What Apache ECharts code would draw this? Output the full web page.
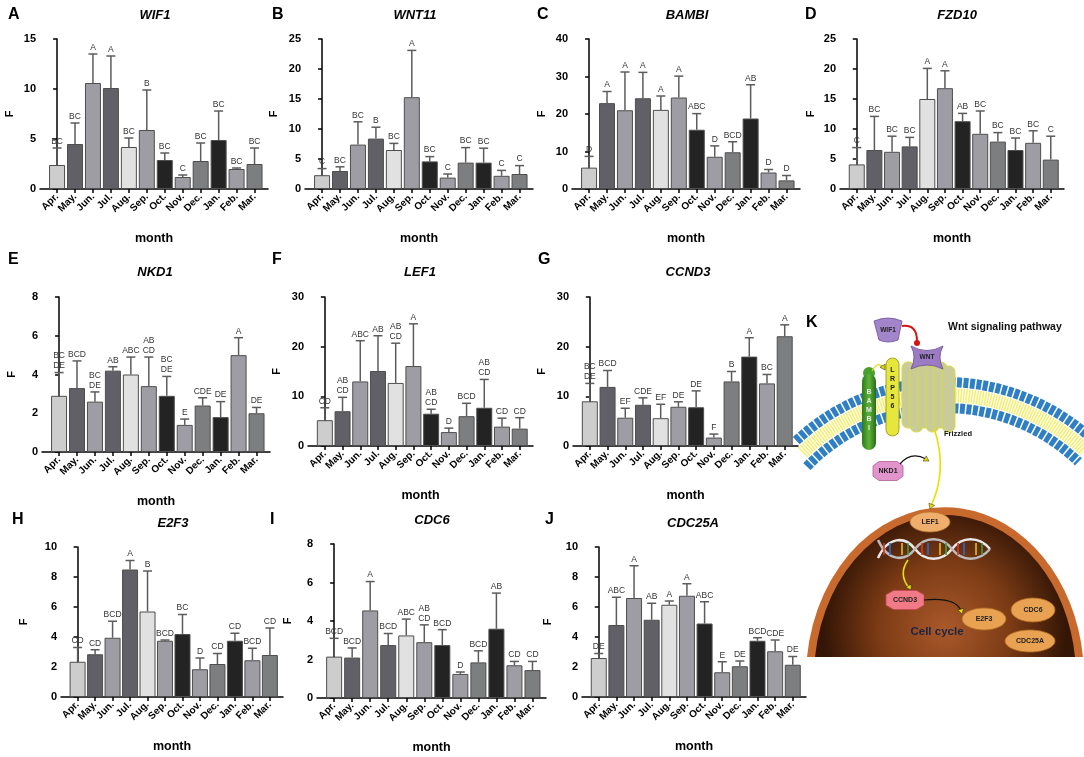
<!DOCTYPE html>
<html>
<head>
<meta charset="utf-8">
<script src="https://cdn.jsdelivr.net/npm/echarts@6.0.0/dist/echarts.min.js"></script>
<style>
  html, body { margin: 0; padding: 0; background: #fff; }
  #main { width: 1084px; height: 757px; }
</style>
</head>
<body>
<div id="main"></div>
<script>
var months = ['Apr.', 'May.', 'Jun.', 'Jul.', 'Aug.', 'Sep.', 'Oct.', 'Nov.', 'Dec.', 'Jan.', 'Feb.', 'Mar.'];
var monthIdx = [0, 1, 2, 3, 4, 5, 6, 7, 8, 9, 10, 11];
var monthColors = ['#cdcdcd', '#606066', '#9d9da3', '#606066', '#e1e1e1', '#9d9da3',
                   '#232323', '#9d9da3', '#7d7e80', '#232323', '#9d9da3', '#7d7e80'];

// A WIF1
var wif1Mean = [2.4, 4.5, 10.6, 10.1, 4.2, 5.9, 2.9, 1.2, 2.8, 4.9, 2.0, 2.5];
var wif1Sd   = [1.7, 2.1, 2.9, 3.2, 0.9, 4.0, 0.7, 0.2, 1.8, 2.9, 0.1, 1.6];
var wif1Sig  = ['BC', 'BC', 'A', 'A', 'BC', 'B', 'BC', 'C', 'BC', 'BC', 'BC', 'BC'];
var wif1Ticks = [0, 5, 10, 15];
// B WNT11
var wnt11Mean = [2.3, 3.0, 7.4, 8.4, 6.5, 15.3, 4.6, 1.9, 4.4, 4.4, 2.2, 2.5];
var wnt11Sd   = [1.1, 0.7, 3.8, 1.9, 1.1, 7.8, 0.8, 0.6, 2.5, 2.4, 0.9, 1.4];
var wnt11Sig  = ['C', 'BC', 'BC', 'B', 'BC', 'A', 'BC', 'C', 'BC', 'BC', 'C', 'C'];
var wnt11Ticks = [0, 5, 10, 15, 20, 25];
// C BAMBI
var bambiMean = [5.7, 22.9, 21.0, 24.2, 21.1, 24.4, 15.8, 8.6, 9.8, 18.8, 4.4, 2.3];
var bambiSd   = [3.0, 3.1, 10.2, 6.9, 3.7, 5.7, 4.3, 2.9, 2.8, 9.0, 0.8, 1.3];
var bambiSig  = ['D', 'A', 'A', 'A', 'A', 'A', 'ABC', 'D', 'BCD', 'AB', 'D', 'D'];
var bambiTicks = [0, 10, 20, 30, 40];
// D FZD10
var fzd10Mean = [4.1, 6.5, 6.2, 7.1, 15.0, 16.8, 11.3, 9.2, 7.9, 6.5, 7.7, 4.9];
var fzd10Sd   = [2.8, 5.6, 2.6, 1.5, 5.1, 2.9, 1.3, 3.8, 1.5, 2.0, 2.0, 3.9];
var fzd10Sig  = ['C', 'BC', 'BC', 'BC', 'A', 'A', 'AB', 'BC', 'BC', 'BC', 'BC', 'C'];
var fzd10Ticks = [0, 5, 10, 15, 20, 25];
// E NKD1
var nkd1Mean = [2.9, 3.3, 2.6, 4.2, 4.0, 3.4, 2.9, 1.4, 2.4, 1.8, 5.0, 2.0];
var nkd1Sd   = [1.2, 1.4, 0.5, 0.2, 0.9, 1.5, 1.0, 0.3, 0.4, 0.8, 0.9, 0.3];
var nkd1Sig  = ['BC\nDE', 'BCD', 'BC\nDE', 'AB', 'ABC', 'AB\nCD', 'BC\nDE', 'E', 'CDE', 'DE', 'A', 'DE'];
var nkd1Ticks = [0, 2, 4, 6, 8];
// F LEF1
var lef1Mean = [5.2, 7.0, 13.0, 15.1, 12.7, 16.1, 6.5, 2.8, 6.0, 7.7, 3.9, 3.5];
var lef1Sd   = [2.5, 2.8, 8.2, 7.1, 8.0, 8.5, 0.9, 0.8, 2.6, 5.7, 1.7, 2.2];
var lef1Sig  = ['CD', 'AB\nCD', 'ABC', 'AB', 'AB\nCD', 'A', 'AB\nCD', 'D', 'BCD', 'AB\nCD', 'CD', 'CD'];
var lef1Ticks = [0, 10, 20, 30];
// G CCND3
var ccnd3Mean = [9.0, 11.9, 5.7, 8.3, 5.6, 7.9, 7.8, 1.7, 13.0, 18.0, 12.6, 22.1];
var ccnd3Sd   = [3.6, 3.3, 1.9, 1.4, 2.8, 1.0, 3.3, 0.7, 2.0, 3.8, 1.8, 2.3];
var ccnd3Sig  = ['BC\nDE', 'BCD', 'EF', 'CDE', 'EF', 'DE', 'DE', 'F', 'B', 'A', 'BC', 'A'];
var ccnd3Ticks = [0, 10, 20, 30];
// H E2F3
var e2f3Mean = [2.35, 2.85, 3.95, 8.5, 5.7, 3.75, 4.2, 1.85, 2.2, 3.75, 2.45, 2.8];
var e2f3Sd   = [0.95, 0.3, 1.1, 0.6, 2.7, 0.05, 1.3, 0.75, 0.7, 0.5, 0.8, 1.8];
var e2f3Sig  = ['CD', 'CD', 'BCD', 'A', 'B', 'BCD', 'BC', 'D', 'CD', 'CD', 'BCD', 'CD'];
var e2f3Ticks = [0, 2, 4, 6, 8, 10];
// I CDC6
var cdc6Mean = [2.15, 2.1, 4.55, 2.75, 3.25, 2.9, 2.75, 1.25, 1.85, 3.6, 1.7, 1.45];
var cdc6Sd   = [0.95, 0.5, 1.5, 0.6, 0.85, 0.9, 0.8, 0.1, 0.6, 1.85, 0.2, 0.45];
var cdc6Sig  = ['BCD', 'BCD', 'A', 'BCD', 'ABC', 'AB\nCD', 'BCD', 'D', 'BCD', 'AB', 'CD', 'CD'];
var cdc6Ticks = [0, 2, 4, 6, 8];
// J CDC25A
var cdc25aMean = [2.6, 4.8, 6.6, 5.15, 6.15, 6.75, 4.9, 1.65, 2.05, 3.75, 3.05, 2.15];
var cdc25aSd   = [0.3, 1.85, 2.15, 1.1, 0.25, 0.8, 1.45, 0.7, 0.35, 0.2, 0.75, 0.55];
var cdc25aSig  = ['DE', 'ABC', 'A', 'AB', 'A', 'A', 'ABC', 'E', 'DE', 'BCD', 'CDE', 'DE'];
var cdc25aTicks = [0, 2, 4, 6, 8, 10];

var FONT = '"Liberation Sans", Arial, Helvetica, sans-serif';

var panels = [
  { letter: 'A', gene: 'WIF1',   mean: wif1Mean,   sd: wif1Sd,   sig: wif1Sig,   ticks: wif1Ticks,   left: 40,  top: 39,  width: 228, height: 150, lx: 8,   ly: 15,  tx: 155, ty: 15,  fGap: 25 },
  { letter: 'B', gene: 'WNT11',  mean: wnt11Mean,  sd: wnt11Sd,  sig: wnt11Sig,  ticks: wnt11Ticks,  left: 305, top: 39,  width: 228, height: 150, lx: 272, ly: 15,  tx: 415, ty: 15,  fGap: 26 },
  { letter: 'C', gene: 'BAMBI',  mean: bambiMean,  sd: bambiSd,  sig: bambiSig,  ticks: bambiTicks,  left: 572, top: 39,  width: 228, height: 150, lx: 537, ly: 15,  tx: 687, ty: 15,  fGap: 25 },
  { letter: 'D', gene: 'FZD10',  mean: fzd10Mean,  sd: fzd10Sd,  sig: fzd10Sig,  ticks: fzd10Ticks,  left: 840, top: 39,  width: 224, height: 150, lx: 805, ly: 15,  tx: 957, ty: 15,  fGap: 24 },
  { letter: 'E', gene: 'NKD1',   mean: nkd1Mean,   sd: nkd1Sd,   sig: nkd1Sig,   ticks: nkd1Ticks,   left: 42,  top: 297, width: 228, height: 155, lx: 8,   ly: 260, tx: 155, ty: 272, fGap: 25 },
  { letter: 'F', gene: 'LEF1',   mean: lef1Mean,   sd: lef1Sd,   sig: lef1Sig,   ticks: lef1Ticks,   left: 308, top: 297, width: 225, height: 149, lx: 272, ly: 260, tx: 420, ty: 272, fGap: 26 },
  { letter: 'G', gene: 'CCND3',  mean: ccnd3Mean,  sd: ccnd3Sd,  sig: ccnd3Sig,  ticks: ccnd3Ticks,  left: 573, top: 297, width: 225, height: 149, lx: 538, ly: 260, tx: 688, ty: 272, fGap: 26 },
  { letter: 'H', gene: 'E2F3',   mean: e2f3Mean,   sd: e2f3Sd,   sig: e2f3Sig,   ticks: e2f3Ticks,   left: 61,  top: 547, width: 222, height: 150, lx: 12,  ly: 520, tx: 173, ty: 523, fGap: 32 },
  { letter: 'I', gene: 'CDC6',   mean: cdc6Mean,   sd: cdc6Sd,   sig: cdc6Sig,   ticks: cdc6Ticks,   left: 317, top: 544, width: 229, height: 154, lx: 270, ly: 520, tx: 432, ty: 520, fGap: 24 },
  { letter: 'J', gene: 'CDC25A', mean: cdc25aMean, sd: cdc25aSd, sig: cdc25aSig, ticks: cdc25aTicks, left: 582, top: 547, width: 224, height: 150, lx: 545, ly: 520, tx: 693, ty: 523, fGap: 29 }
];

function errorRender(sig) {
  return function (params, api) {
    var i = api.value(0);
    var base = api.coord([i, api.value(1)]);
    var top = api.coord([i, api.value(2)]);
    var c = 4.5;
    var st = { stroke: '#5c5c5c', lineWidth: 1.5 };
    return {
      type: 'group',
      children: [
        { type: 'line', shape: { x1: base[0], y1: base[1], x2: top[0], y2: top[1] }, style: st },
        { type: 'line', shape: { x1: top[0] - c, y1: top[1], x2: top[0] + c, y2: top[1] }, style: st },
        { type: 'text', x: top[0], y: top[1] - 1.5,
          style: { text: sig[params.dataIndex], align: 'center', verticalAlign: 'bottom',
                   font: '8.5px ' + FONT, fill: '#333', lineHeight: 10 } }
      ]
    };
  };
}

var grids = [], xAxes = [], yAxes = [], series = [], graphics = [];

panels.forEach(function (p, k) {
  var t = p.ticks;
  grids.push({ left: p.left, top: p.top, width: p.width, height: p.height });
  xAxes.push({
    type: 'value', gridIndex: k, min: -0.95, max: 11.75,
    axisLine: { show: true, onZero: false, lineStyle: { color: '#000', width: 1.5 } },
    axisTick: { show: true, customValues: monthIdx, length: 4, lineStyle: { color: '#000', width: 1.5 } },
    axisLabel: {
      customValues: monthIdx, rotate: 45, margin: 6, color: '#000',
      fontWeight: 'bold', fontSize: 10, fontFamily: FONT,
      formatter: function (v) { return months[Math.round(v)]; }
    },
    splitLine: { show: false },
    name: 'month', nameLocation: 'middle', nameGap: 43,
    nameTextStyle: { color: '#000', fontWeight: 'bold', fontSize: 12.5, fontFamily: FONT }
  });
  yAxes.push({
    type: 'value', gridIndex: k, min: t[0], max: t[t.length - 1], interval: t[1] - t[0],
    axisLine: { show: true, lineStyle: { color: '#000', width: 1.5 } },
    axisTick: { show: true, length: 4, lineStyle: { color: '#000', width: 1.5 } },
    axisLabel: { color: '#000', fontWeight: 'bold', fontSize: 11, fontFamily: FONT, margin: 4 },
    splitLine: { show: false },
    name: 'F', nameLocation: 'middle', nameGap: p.fGap, nameRotate: 90,
    nameTextStyle: { color: '#000', fontWeight: 'bold', fontSize: 11, fontFamily: FONT }
  });
  series.push({
    type: 'bar', xAxisIndex: k, yAxisIndex: k, barWidth: 16, silent: true,
    data: p.mean.map(function (v, i) { return [i, v]; }),
    itemStyle: {
      color: function (params) { return monthColors[params.dataIndex]; },
      borderColor: '#4e4e4e', borderWidth: 1
    }
  });
  series.push({
    type: 'custom', xAxisIndex: k, yAxisIndex: k, silent: true, clip: false, z: 3,
    data: p.mean.map(function (v, i) { return [i, v, v + p.sd[i]]; }),
    renderItem: errorRender(p.sig)
  });
  graphics.push({ type: 'text', x: p.lx, y: p.ly,
    style: { text: p.letter, font: 'bold 16px ' + FONT, fill: '#000', verticalAlign: 'middle' } });
  graphics.push({ type: 'text', x: p.tx, y: p.ty,
    style: { text: p.gene, font: 'italic bold 13px ' + FONT, fill: '#000', align: 'center', verticalAlign: 'middle' } });
});

// ---- panel K : Wnt signalling sketch (drawn by one custom series) ----
function octagon(cx, cy, w, h) {
  var a = w / 2, b = h / 2, ca = a * 0.6, cb = b * 0.55;
  return [[cx - ca, cy - b], [cx + ca, cy - b], [cx + a, cy - cb], [cx + a, cy + cb],
          [cx + ca, cy + b], [cx - ca, cy + b], [cx - a, cy + cb], [cx - a, cy - cb]];
}
function head(x, y, ang, col) {
  var s = 5, w = 3;
  var c = Math.cos(ang), si = Math.sin(ang);
  return { type: 'polygon', shape: { points: [[x, y],
    [x - s * c + w * si, y - s * si - w * c], [x - s * c - w * si, y - s * si + w * c]] },
    style: { fill: col, stroke: '#222', lineWidth: 0.5 } };
}
function label(x, y, txt, size, col) {
  return { type: 'text', x: x, y: y, style: { text: txt, font: 'bold ' + size + 'px ' + FONT,
    fill: col || '#222', align: 'center', verticalAlign: 'middle', lineHeight: size + 2 } };
}
function curve(d, col, w) {
  return { type: 'path', shape: { pathData: d }, style: { stroke: col, lineWidth: w, fill: null } };
}
var D2R = Math.PI / 180;

function buildPathway() {
  var kg = [
    // nucleus
    { type: 'path', shape: { pathData: 'M 807 657 A 139 170 0 0 1 1083 657 Z' }, style: { fill: '#c86a2e' } },
    { type: 'path', shape: { pathData: 'M 815 657 A 131 162 0 0 1 1075 657 Z' },
      style: { fill: { type: 'radial', x: 0.5, y: 0.8, r: 0.85, colorStops: [
        { offset: 0, color: '#a9592a' }, { offset: 0.55, color: '#7c3b15' }, { offset: 1, color: '#351606' }] } } },
    // membrane
    { type: 'arc', shape: { cx: 945, cy: 600, r: 218, startAngle: -133 * D2R, endAngle: -48 * D2R, clockwise: true },
      style: { stroke: '#2f7fc4', lineWidth: 10, lineDash: [5, 1.5], fill: null } },
    { type: 'arc', shape: { cx: 945, cy: 600, r: 205, startAngle: -134 * D2R, endAngle: -47 * D2R, clockwise: true },
      style: { stroke: '#f3ee6c', lineWidth: 14, lineDash: [1.5, 1.2], fill: null } },
    { type: 'arc', shape: { cx: 945, cy: 600, r: 192, startAngle: -136 * D2R, endAngle: -46 * D2R, clockwise: true },
      style: { stroke: '#2f7fc4', lineWidth: 10, lineDash: [5, 1.5], fill: null } }
  ];
  // Frizzled
  [0, 1, 2, 3, 4, 5].forEach(function (j) {
    kg.push({ type: 'rect', shape: { x: 902 + j * 8, y: 362 + (j % 2) * 4, width: 13, height: 66, r: 6 },
      style: { fill: '#c9cb98', stroke: '#d9dc3c', lineWidth: 1 } });
  });
  kg.push(
    // LRP5/6
    { type: 'rect', shape: { x: 886, y: 358, width: 13, height: 78, r: 6.5 }, style: { fill: '#e6e63c', stroke: '#8f8f12', lineWidth: 0.8 } },
    label(892.5, 388, 'L\nR\nP\n5\n6', 7, '#222'),
    // BAMBI
    { type: 'circle', shape: { cx: 869, cy: 373, r: 6 }, style: { fill: '#48a02c' } },
    { type: 'rect', shape: { x: 862, y: 374, width: 14, height: 76, r: 7 },
      style: { fill: { type: 'linear', x: 0, y: 0, x2: 1, y2: 0, colorStops: [
        { offset: 0, color: '#2f7a1c' }, { offset: 0.5, color: '#5db43a' }, { offset: 1, color: '#2c6a18' }] } } },
    label(869, 410, 'B\nA\nM\nB\nI', 7, '#e8e8e8'),
    curve('M 872 371 Q 878 360 884 368', '#e0d800', 1.2),
    head(885, 370, 60 * D2R, '#e0d800'),
    // WIF1 and WNT
    { type: 'path', shape: { pathData: 'M 874 321 Q 888 315 902 321 L 898 340 Q 888 344 879 340 Z' }, style: { fill: '#a385cc', stroke: '#6d4f93', lineWidth: 0.8 } },
    label(888, 330, 'WIF1', 6.5, '#222'),
    curve('M 902 326 Q 917 324 917 341', '#d41515', 2),
    { type: 'circle', shape: { cx: 917, cy: 343, r: 3 }, style: { fill: '#d41515' } },
    { type: 'path', shape: { pathData: 'M 911 346 Q 927 355 943 346 Q 937 357 943 369 Q 927 361 911 369 Q 917 357 911 346 Z' }, style: { fill: '#9b7bc3', stroke: '#6a4c90', lineWidth: 0.8 } },
    label(927, 357, 'WNT', 6.5, '#222'),
    label(958, 434, 'Frizzled', 7.5, '#111'),
    // NKD1
    { type: 'polygon', shape: { points: octagon(888, 471, 30, 19) }, style: { fill: '#e294cc', stroke: '#b0609a', lineWidth: 0.8 } },
    label(888, 471, 'NKD1', 7, '#222'),
    curve('M 900 464 Q 911 451 926 459', '#111', 1.2),
    head(929, 461, 30 * D2R, '#e0d800'),
    // Frizzled -> LEF1
    curve('M 934 428 Q 948 470 931 506', '#e8e000', 1.6),
    head(930, 509, 110 * D2R, '#e8e000'),
    // LEF1
    { type: 'ellipse', shape: { cx: 930, cy: 522, rx: 20, ry: 10 }, style: { fill: '#f0ae6c', stroke: '#b8742c', lineWidth: 0.8 } },
    label(930, 522, 'LEF1', 7, '#222'),
    // DNA
    curve('M 878 558 C 888 536 905 536 915 549 C 925 562 942 562 952 549 C 962 536 979 536 990 549', '#e8e8e8', 2.5),
    curve('M 878 540 C 888 562 905 562 915 549 C 925 536 942 536 952 549 C 962 562 979 562 990 549', '#bcbcbc', 2.5)
  );
  var rungCols = ['#d23a2a', '#2a6cd2', '#e0c020', '#3aa040'];
  [884, 890, 902, 908, 922, 928, 940, 946, 958, 964, 976, 982].forEach(function (x, j) {
    kg.push({ type: 'line', shape: { x1: x, y1: 543, x2: x, y2: 555 }, style: { stroke: rungCols[j % 4], lineWidth: 1.6 } });
  });
  kg.push(
    curve('M 908 560 Q 898 574 909 588', '#e8e000', 1.6),
    head(911, 590, 60 * D2R, '#e8e000'),
    // CCND3
    { type: 'polygon', shape: { points: octagon(905, 600, 38, 19) }, style: { fill: '#f07a86', stroke: '#c04858', lineWidth: 0.8 } },
    label(905, 600, 'CCND3', 7, '#222'),
    curve('M 924 600 Q 956 597 961 611', '#111', 1.2),
    head(962, 614, 75 * D2R, '#e8e000'),
    // cell cycle proteins
    { type: 'ellipse', shape: { cx: 984, cy: 619, rx: 22, ry: 11 }, style: { fill: '#e9a252', stroke: '#b06a20', lineWidth: 0.8 } },
    label(984, 619, 'E2F3', 7, '#222'),
    { type: 'ellipse', shape: { cx: 1033, cy: 610, rx: 22, ry: 12 }, style: { fill: '#e9a252', stroke: '#b06a20', lineWidth: 0.8 } },
    label(1033, 610, 'CDC6', 7, '#222'),
    { type: 'ellipse', shape: { cx: 1030, cy: 641, rx: 25, ry: 11 }, style: { fill: '#e9a252', stroke: '#b06a20', lineWidth: 0.8 } },
    label(1030, 641, 'CDC25A', 7, '#222'),
    label(937, 632, 'Cell cycle', 11.5, '#1c2444')
  );
  return kg;
}

series.push({
  type: 'custom', coordinateSystem: 'none', silent: true, z: 1,
  data: [[0]],
  renderItem: function () { return { type: 'group', children: buildPathway() }; }
});

graphics.push(
  { type: 'text', x: 806, y: 323, style: { text: 'K', font: 'bold 16px ' + FONT, fill: '#000', verticalAlign: 'middle' } },
  { type: 'text', x: 948, y: 327, style: { text: 'Wnt signaling pathway', font: 'bold 10.5px ' + FONT, fill: '#111', verticalAlign: 'middle' } }
);

var chart = echarts.init(document.getElementById('main'));
chart.setOption({
  backgroundColor: '#fff',
  animation: false,
  grid: grids,
  xAxis: xAxes,
  yAxis: yAxes,
  series: series,
  graphic: graphics
});
</script>
</body>
</html>
